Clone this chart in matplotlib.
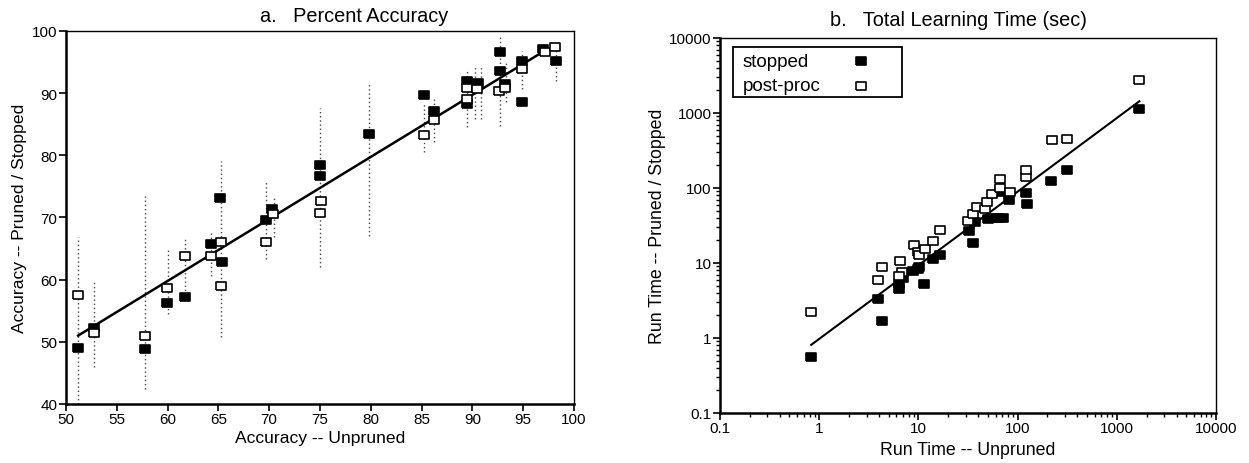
import matplotlib
matplotlib.use("Agg")
import matplotlib.pyplot as plt
from matplotlib.ticker import FixedLocator, FixedFormatter, LogLocator, NullFormatter

plt.rcParams["font.family"] = ["Liberation Sans", "DejaVu Sans"]
plt.rcParams["font.size"] = 11

# --- panel a: percent accuracy ---
acc_stop_x = [51.2, 52.8, 57.8, 59.9, 61.7, 64.3, 65.2, 65.4, 69.7, 70.3, 75.0, 75.0, 79.8,
              85.2, 86.2, 89.5, 89.5, 90.6, 92.7, 92.7, 93.2, 94.9, 94.9, 97.0, 98.2]
acc_stop_y = [49.0, 52.3, 48.9, 56.3, 57.2, 65.7, 73.1, 62.8, 69.6, 71.4, 78.5, 76.6, 83.4,
              89.7, 87.2, 92.0, 88.3, 91.6, 96.6, 93.5, 91.5, 95.2, 88.5, 97.1, 95.2]
acc_post_x = [51.2, 52.8, 57.8, 59.9, 61.7, 64.3, 65.3, 65.3, 69.7, 70.4, 75.1, 75.0,
              85.2, 86.2, 89.5, 89.5, 90.5, 92.6, 93.2, 94.9, 97.2, 98.1]
acc_post_y = [57.6, 51.4, 51.0, 58.7, 63.8, 63.8, 66.0, 58.9, 66.0, 70.6, 72.6, 70.7,
              83.2, 85.6, 90.8, 89.1, 90.7, 90.4, 90.9, 93.9, 96.6, 97.4]
# dotted ranges
rng_x = [51.2, 52.8, 57.8, 60.0, 61.7, 64.3, 65.3, 69.7, 70.5, 75.0, 79.8,
         85.2, 86.2, 89.5, 90.3, 90.9, 92.7, 93.3, 94.9, 98.2]
rng_lo = [40.0, 46.0, 42.4, 54.5, 56.9, 60.6, 50.8, 63.3, 66.9, 62.0, 67.1,
          80.5, 82.1, 84.5, 85.8, 85.8, 84.7, 88.6, 90.7, 92.0]
rng_hi = [66.9, 59.8, 73.5, 64.8, 66.9, 67.7, 79.1, 75.7, 73.3, 87.6, 91.7,
          88.6, 89.1, 93.9, 94.4, 94.4, 99.0, 95.0, 96.8, 97.0]
acc_fit_x = [51.2, 97.5]
acc_fit_y = [51.0, 97.2]

# --- panel b: learning time ---
time_stop_x = [0.82, 3.94, 4.27, 6.4, 6.4, 6.95, 8.9, 10.0, 10.2, 11.4, 14.1, 16.5, 32.6,
               35.7, 37.3, 50.7, 56.9, 63.9, 71.7, 66.5, 82.5, 121.6, 124, 216, 313, 1687]
time_stop_y = [0.56, 3.26, 1.66, 5.3, 4.5, 6.3, 7.7, 8.4, 8.8, 5.3, 11.4, 12.8, 26.3,
               18.6, 35.2, 38.9, 39.6, 39.6, 40.0, 88, 68.4, 86, 62, 124, 175, 1146]
time_post_x = [0.83, 3.94, 4.27, 6.5, 6.9, 6.3, 9.0, 10.0, 10.2, 11.6, 14.1, 16.5, 31.9,
               35.7, 38.7, 46.9, 48.7, 54.8, 66.5, 66.5, 83.8, 121.6, 121.6, 221, 313, 1687]
time_post_y = [2.2, 6.0, 8.8, 10.5, 7.5, 6.7, 17.5, 14.0, 12.6, 15.5, 19.6, 27.2, 36,
               45, 55, 53, 65, 84, 100, 133, 88, 140, 172, 441, 455, 2735]
time_fit_x = [0.83, 1687]
time_fit_y = [0.81, 1432]

log_ticks = [0.1, 1, 10, 100, 1000, 10000]
log_labels = ["0.1", "1", "10", "100", "1000", "10000"]
series_names = ["stopped", "post-proc"]

fig = plt.figure(figsize=(12.49, 4.64), dpi=100)
ax1 = fig.add_axes([0.0528, 0.1272, 0.4067, 0.8039])
ax2 = fig.add_axes([0.5765, 0.1078, 0.3971, 0.8082])

# slightly wide box marker, like the scanned figure
box = [(-1.2, -1), (1.2, -1), (1.2, 1), (-1.2, 1), (-1.2, -1)]
mk = dict(marker=box, markersize=6.8, linestyle="none", markeredgecolor="black", markeredgewidth=1.2)

ax1.vlines(rng_x, rng_lo, rng_hi, colors="#444444", linestyles=(0, (1, 2)), linewidth=1.0, zorder=1)
ax1.plot(acc_fit_x, acc_fit_y, color="black", linewidth=1.8, zorder=2)
ax1.plot(acc_stop_x, acc_stop_y, markerfacecolor="black", zorder=3, **mk)
ax1.plot(acc_post_x, acc_post_y, markerfacecolor="white", zorder=3, **mk)
ax1.set_xlim(50, 100)
ax1.set_ylim(40, 100)
ax1.set_xticks(range(50, 101, 5))
ax1.set_yticks(range(40, 101, 10))
ax1.set_xlabel("Accuracy -- Unpruned", fontsize=12.6, labelpad=3)
ax1.set_ylabel("Accuracy -- Pruned / Stopped", fontsize=12.6, labelpad=4)

ax2.plot(time_fit_x, time_fit_y, color="black", linewidth=1.5, zorder=2)
ax2.plot(time_stop_x, time_stop_y, markerfacecolor="black", zorder=3, **mk)
ax2.plot(time_post_x, time_post_y, markerfacecolor="white", zorder=3, **mk)
ax2.set_xscale("log")
ax2.set_yscale("log")
ax2.set_xlim(0.1, 10000)
ax2.set_ylim(0.1, 10000)
for axis in (ax2.xaxis, ax2.yaxis):
    axis.set_major_locator(FixedLocator(log_ticks))
    axis.set_major_formatter(FixedFormatter(log_labels))
    axis.set_minor_locator(LogLocator(base=10, subs=range(2, 10)))
    axis.set_minor_formatter(NullFormatter())
ax2.set_xlabel("Run Time -- Unpruned", fontsize=12.8, labelpad=4)
ax2.set_ylabel("Run Time -- Pruned / Stopped", fontsize=12.8, labelpad=2)

# legend box: labels left, markers right
ax2.add_patch(plt.Rectangle((0.026, 0.843), 0.341, 0.133, transform=ax2.transAxes,
                            facecolor="white", edgecolor="black", linewidth=1.3, zorder=4))
for name, face, ypos in zip(series_names, ["black", "white"], [0.938, 0.873]):
    ax2.text(0.046, ypos, name, transform=ax2.transAxes, fontsize=13.5, va="center", zorder=5)
    ax2.plot([0.284], [ypos], transform=ax2.transAxes, markerfacecolor=face, zorder=5,
             clip_on=False, **mk)

fig.text(260 / 1249, 1 - 22 / 464, "a.   Percent Accuracy", fontsize=14.3, va="baseline", ha="left")
fig.text(830 / 1249, 1 - 26 / 464, "b.   Total Learning Time (sec)", fontsize=14.3, va="baseline", ha="left")

for ax in (ax1, ax2):
    ax.spines["left"].set_linewidth(1.8)
    ax.spines["bottom"].set_linewidth(1.8)
    ax.spines["top"].set_linewidth(1.0)
    ax.spines["right"].set_linewidth(1.0)
    ax.tick_params(which="major", direction="out", length=5, width=1.2, labelsize=11, pad=1)
    ax.tick_params(which="minor", direction="out", length=3, width=1.0)

fig.savefig("out.png", dpi=100)
